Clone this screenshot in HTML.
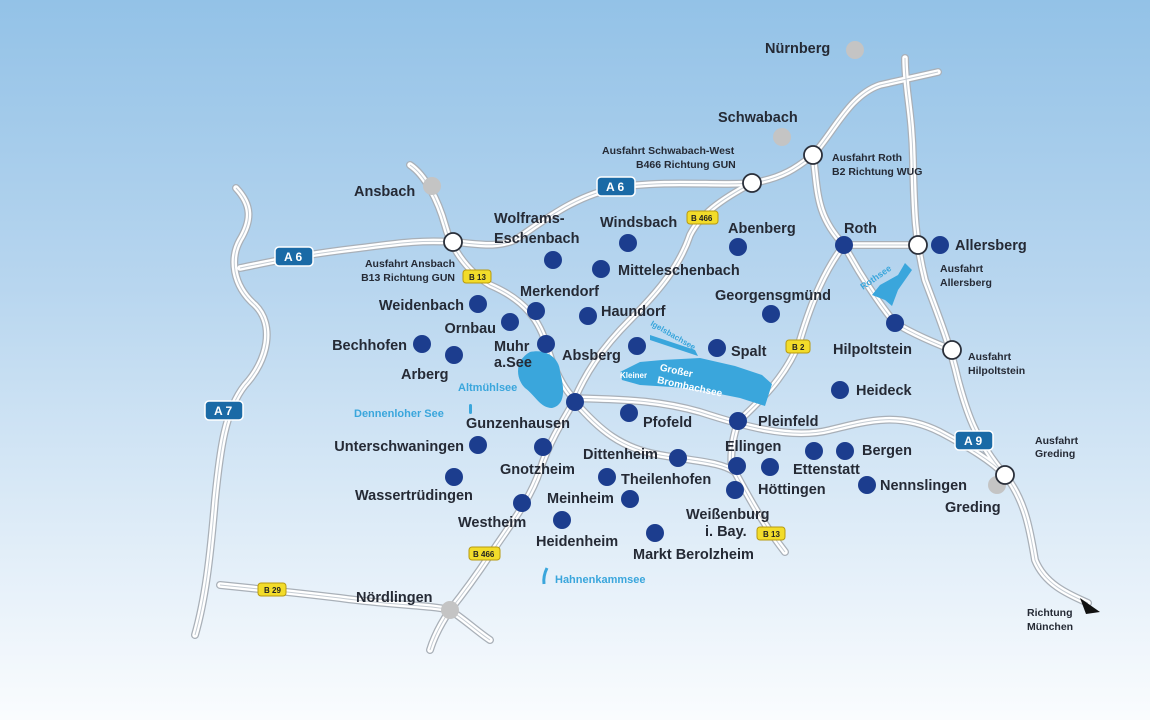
<!DOCTYPE html>
<html><head><meta charset="utf-8"><style>
html,body{margin:0;padding:0;width:1150px;height:720px;overflow:hidden}
body{background:linear-gradient(180deg,#93c2e7 0%,#b8d6ef 40%,#e0edf8 75%,#fafcfe 100%)}
svg{position:absolute;left:0;top:0}
text{font-family:"Liberation Sans",sans-serif;font-weight:bold;fill:#252a35}
.t{font-size:14.5px}
.s{font-size:10.5px}
.l{font-size:11px;fill:#3aa6dc}
.rd{fill:none;stroke:#a9b0b8;stroke-width:8;stroke-linecap:round;stroke-linejoin:round}
.rw{fill:none;stroke:#fff;stroke-width:5.5;stroke-linecap:round;stroke-linejoin:round}
.rm{fill:none;stroke:#c5ccd3;stroke-width:1}
.d{fill:#1c3d8e}
.g{fill:#c4c4c4}
.w{fill:#fff;stroke:#2a2f3a;stroke-width:1.8}
.ab{fill:#1a6aa6;stroke:#fff;stroke-width:1.5}
.bb{fill:#f2dc2a;stroke:#b89a10;stroke-width:1}
.at{fill:#fff;font-size:12px}
.bt{font-size:8px;fill:#222}
</style></head><body>
<svg width="1150" height="720" viewBox="0 0 1150 720">
<defs>
<g id="roads">
<path d="M240,268 C270,262 300,255 360,248 C400,243 420,240 453,242 C480,244 495,248 515,240 C545,220 575,195 620,187 C670,180 720,186 752,183 C785,178 800,165 813,155 C835,130 850,95 880,85 L938,72"/>
<path d="M236,188 C252,205 252,220 240,240 C230,258 232,285 255,305 C275,325 268,360 245,385 C225,410 220,450 215,500 C210,560 205,600 195,635"/>
<path d="M410,165 C425,175 438,200 445,225 C450,245 465,270 490,285 C525,300 540,320 548,350 C556,375 565,390 575,400 C560,425 548,445 540,470 C530,500 510,525 490,555 C470,585 458,600 450,610 C440,625 433,640 430,650"/>
<path d="M575,398 C610,400 650,398 700,412 C740,425 790,440 830,430 C870,420 900,412 940,432 C970,448 990,460 1005,475"/>
<path d="M575,402 C600,430 620,448 660,455 C700,462 720,462 735,472 C745,490 760,520 785,552"/>
<path d="M752,183 C720,200 700,215 690,235 C680,265 660,290 630,320 C600,350 585,375 575,398"/>
<path d="M813,155 C818,190 815,215 844,245 C825,270 812,300 800,340 C785,380 755,405 738,422 C732,440 730,455 732,470"/>
<path d="M905,58 C905,90 912,110 913,160 C914,210 915,240 925,280 C940,320 950,345 958,380 C966,410 975,440 1005,475 C1025,500 1030,530 1035,560 C1045,585 1070,595 1088,603"/>
<path d="M844,245 L918,245"/>
<path d="M844,245 C860,275 880,305 895,323 C915,335 935,343 952,350"/>
<path d="M220,585 C250,588 290,592 340,598 C390,605 430,605 450,610 C465,620 478,632 490,640"/>
</g>
</defs>
<use href="#roads" class="rd"/>
<use href="#roads" class="rw"/>
<use href="#roads" class="rm"/>
<polygon points="1080,598 1100,612 1086,614" fill="#111"/>

<path d="M530,352 C548,348 560,360 560,372 C565,390 565,405 552,408 C540,408 535,395 525,388 C515,378 515,360 530,352Z" fill="#3aa6dc"/>
<path d="M620,372 L640,362 L662,360 L700,358 L735,366 L762,375 L772,384 L765,406 L740,398 L700,390 L672,387 L640,385 L622,380Z" fill="#3aa6dc"/>
<path d="M650,335 L695,350 L698,356 L650,340Z" fill="#3aa6dc"/>
<path d="M905,263 L898,275 L880,285 L872,295 L885,300 L892,306 L898,290 L912,270Z" fill="#3aa6dc"/>
<rect x="469" y="404" width="3" height="10" rx="1.5" fill="#3aa6dc"/>
<path d="M547,568 Q543,576 544,584" stroke="#3aa6dc" stroke-width="3" fill="none"/>
<text x="658" y="377" font-size="10" style="fill:#fff" transform="rotate(12 690 380)">Großer</text>
<text x="656" y="390" font-size="10" style="fill:#fff" transform="rotate(12 690 390)">Brombachsee</text>
<text x="620" y="378" font-size="8" style="fill:#fff">Kleiner</text>
<text x="650" y="325" font-size="8" style="fill:#3aa6dc" transform="rotate(30 650 325)">Igelsbachsee</text>
<text x="863" y="290" font-size="9" style="fill:#3aa6dc" transform="rotate(-35 863 290)">Rothsee</text>

<circle class="g" cx="855" cy="50" r="9"/><circle class="g" cx="782" cy="137" r="9"/>
<circle class="g" cx="432" cy="186" r="9"/><circle class="g" cx="997" cy="485" r="9"/>
<circle class="g" cx="450" cy="610" r="9"/>
<circle class="w" cx="453" cy="242" r="9"/><circle class="w" cx="752" cy="183" r="9"/>
<circle class="w" cx="813" cy="155" r="9"/><circle class="w" cx="918" cy="245" r="9"/>
<circle class="w" cx="952" cy="350" r="9"/><circle class="w" cx="1005" cy="475" r="9"/>

<g class="d">
<circle cx="553" cy="260" r="9"/><circle cx="628" cy="243" r="9"/><circle cx="738" cy="247" r="9"/>
<circle cx="601" cy="269" r="9"/><circle cx="536" cy="311" r="9"/><circle cx="588" cy="316" r="9"/>
<circle cx="478" cy="304" r="9"/><circle cx="510" cy="322" r="9"/><circle cx="422" cy="344" r="9"/>
<circle cx="454" cy="355" r="9"/><circle cx="546" cy="344" r="9"/><circle cx="637" cy="346" r="9"/>
<circle cx="771" cy="314" r="9"/><circle cx="717" cy="348" r="9"/><circle cx="844" cy="245" r="9"/>
<circle cx="940" cy="245" r="9"/><circle cx="895" cy="323" r="9"/><circle cx="840" cy="390" r="9"/>
<circle cx="575" cy="402" r="9"/><circle cx="629" cy="413" r="9"/><circle cx="738" cy="421" r="9"/>
<circle cx="478" cy="445" r="9"/><circle cx="543" cy="447" r="9"/><circle cx="678" cy="458" r="9"/>
<circle cx="737" cy="466" r="9"/><circle cx="770" cy="467" r="9"/><circle cx="814" cy="451" r="9"/>
<circle cx="845" cy="451" r="9"/><circle cx="454" cy="477" r="9"/><circle cx="607" cy="477" r="9"/>
<circle cx="735" cy="490" r="9"/><circle cx="867" cy="485" r="9"/><circle cx="630" cy="499" r="9"/>
<circle cx="522" cy="503" r="9"/><circle cx="562" cy="520" r="9"/><circle cx="655" cy="533" r="9"/>
</g>

<rect class="ab" x="597" y="177" width="38" height="19" rx="4"/><text class="at" x="606" y="191">A 6</text>
<rect class="ab" x="275" y="247" width="38" height="19" rx="4"/><text class="at" x="284" y="261">A 6</text>
<rect class="ab" x="205" y="401" width="38" height="19" rx="4"/><text class="at" x="214" y="415">A 7</text>
<rect class="ab" x="955" y="431" width="38" height="19" rx="4"/><text class="at" x="964" y="445">A 9</text>
<rect class="bb" x="687" y="211" width="31" height="13" rx="3"/><text class="bt" x="691" y="221">B 466</text>
<rect class="bb" x="463" y="270" width="28" height="13" rx="3"/><text class="bt" x="469" y="280">B 13</text>
<rect class="bb" x="786" y="340" width="24" height="13" rx="3"/><text class="bt" x="792" y="350">B 2</text>
<rect class="bb" x="757" y="527" width="28" height="13" rx="3"/><text class="bt" x="763" y="537">B 13</text>
<rect class="bb" x="469" y="547" width="31" height="13" rx="3"/><text class="bt" x="473" y="557">B 466</text>
<rect class="bb" x="258" y="583" width="28" height="13" rx="3"/><text class="bt" x="264" y="593">B 29</text>

<g class="t">
<text x="765" y="53">Nürnberg</text><text x="718" y="122">Schwabach</text><text x="354" y="196">Ansbach</text>
<text x="494" y="223">Wolframs-</text><text x="494" y="243">Eschenbach</text>
<text x="600" y="227">Windsbach</text><text x="728" y="233">Abenberg</text>
<text x="618" y="275">Mitteleschenbach</text><text x="520" y="296">Merkendorf</text><text x="601" y="316">Haundorf</text>
<text x="464" y="310" text-anchor="end">Weidenbach</text><text x="496" y="333" text-anchor="end">Ornbau</text>
<text x="407" y="350" text-anchor="end">Bechhofen</text><text x="401" y="379">Arberg</text>
<text x="494" y="351">Muhr</text><text x="494" y="367">a.See</text>
<text x="562" y="360">Absberg</text><text x="715" y="300">Georgensgmünd</text><text x="731" y="356">Spalt</text>
<text x="844" y="233">Roth</text><text x="955" y="250">Allersberg</text><text x="833" y="354">Hilpoltstein</text>
<text x="856" y="395">Heideck</text><text x="466" y="428">Gunzenhausen</text><text x="643" y="427">Pfofeld</text>
<text x="758" y="426">Pleinfeld</text><text x="464" y="451" text-anchor="end">Unterschwaningen</text>
<text x="500" y="474">Gnotzheim</text><text x="583" y="459">Dittenheim</text><text x="725" y="451">Ellingen</text>
<text x="793" y="474">Ettenstatt</text><text x="862" y="455">Bergen</text><text x="355" y="500">Wassertrüdingen</text>
<text x="621" y="484">Theilenhofen</text><text x="758" y="494">Höttingen</text><text x="880" y="490">Nennslingen</text>
<text x="547" y="503">Meinheim</text><text x="458" y="527">Westheim</text><text x="536" y="546">Heidenheim</text>
<text x="686" y="519">Weißenburg</text><text x="705" y="536">i. Bay.</text><text x="633" y="559">Markt Berolzheim</text>
<text x="945" y="512">Greding</text><text x="356" y="602">Nördlingen</text>
</g>
<g class="s">
<text x="602" y="154">Ausfahrt Schwabach-West</text><text x="636" y="168">B466 Richtung GUN</text>
<text x="832" y="161">Ausfahrt Roth</text><text x="832" y="175">B2 Richtung WUG</text>
<text x="455" y="267" text-anchor="end">Ausfahrt Ansbach</text><text x="455" y="281" text-anchor="end">B13 Richtung GUN</text>
<text x="940" y="272">Ausfahrt</text><text x="940" y="286">Allersberg</text>
<text x="968" y="360">Ausfahrt</text><text x="968" y="374">Hilpoltstein</text>
<text x="1035" y="444">Ausfahrt</text><text x="1035" y="457">Greding</text>
<text x="1027" y="616">Richtung</text><text x="1027" y="630">München</text>
</g>
<text class="l" x="458" y="391">Altmühlsee</text>
<text class="l" x="354" y="417">Dennenloher See</text>
<text class="l" x="555" y="583">Hahnenkammsee</text>
</svg>
</body></html>
